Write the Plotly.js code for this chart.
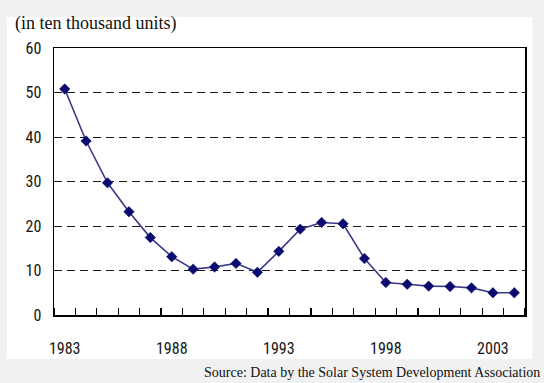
<!DOCTYPE html>
<html>
<head>
<meta charset="utf-8">
<script src="https://cdn.plot.ly/plotly-3.0.1.min.js"></script>
<style>
  html, body { margin: 0; padding: 0; background: #f1f1f1; }
  #chart { width: 544px; height: 383px; }
</style>
</head>
<body>
<div id="chart"></div>
<script>
// Annual shipments of solar water heaters (ten thousand units)
const years = [1983, 1984, 1985, 1986, 1987, 1988, 1989, 1990, 1991, 1992, 1993,
               1994, 1995, 1996, 1997, 1998, 1999, 2000, 2001, 2002, 2003, 2004];
const units = [50.8, 39.1, 29.7, 23.2, 17.4, 13.1, 10.3, 10.8, 11.6, 9.6, 14.3,
               19.3, 20.8, 20.5, 12.7, 7.3, 6.9, 6.5, 6.4, 6.1, 5.0, 5.0];
const yearLabels = [1983, 1988, 1993, 1998, 2003];
const yTicks = [0, 10, 20, 30, 40, 50, 60];

const W = 544, H = 383;
const M = { l: 54, r: 18.5, t: 48, b: 68 };
const plotW = W - M.l - M.r, plotH = H - M.t - M.b;
// pixel -> paper coordinate helpers
const px = x => (x - M.l) / plotW;
const py = y => (H - M.b - y) / plotH;

const tickFont = { family: 'Roboto Condensed', size: 16, color: '#151515' };

const trace = {
  x: years,
  y: units,
  type: 'scatter',
  mode: 'lines+markers',
  line: { color: '#3a3a88', width: 1.6 },
  marker: { symbol: 'diamond', size: 8, color: '#0a0a70', line: { width: 0.6, color: '#0a0a70' } },
  hoverinfo: 'x+y'
};

const layout = {
  width: W, height: H,
  margin: M,
  paper_bgcolor: 'rgba(0,0,0,0)',
  plot_bgcolor: '#ffffff',
  showlegend: false,
  xaxis: {
    range: [1982.5, 2004.5],
    tickmode: 'array',
    tickvals: yearLabels,
    ticktext: yearLabels.map(String),
    ticks: '',
    ticklabelstandoff: 18,
    tickfont: tickFont,
    showgrid: false,
    zeroline: false,
    showline: true, linecolor: '#000', linewidth: 1.5, mirror: true,
    minor: { tick0: 1982.5, dtick: 1, ticks: 'inside', ticklen: 7, tickwidth: 1.2, tickcolor: '#000', showgrid: false }
  },
  yaxis: {
    range: [0, 60],
    tickmode: 'array',
    tickvals: yTicks,
    ticks: '',
    ticklabelstandoff: 8,
    tickfont: tickFont,
    showgrid: true, gridcolor: '#1a1a1a', gridwidth: 1, griddash: '8px,5px',
    zeroline: false,
    showline: true, linecolor: '#000', linewidth: 1.5, mirror: true
  },
  shapes: [
    { type: 'rect', xref: 'paper', yref: 'paper', layer: 'below',
      x0: px(7), x1: px(533), y0: py(359), y1: py(17),
      fillcolor: '#ffffff', line: { width: 0 } }
  ],
  annotations: [
    { xref: 'paper', yref: 'paper', x: px(13), y: py(23), xanchor: 'left', yanchor: 'middle',
      text: '(in ten thousand units)', showarrow: false,
      font: { family: 'Liberation Serif', size: 18, color: '#111' } },
    { xref: 'paper', yref: 'paper', x: px(543), y: py(372), xanchor: 'right', yanchor: 'middle',
      text: 'Source: Data by the Solar System Development Association', showarrow: false,
      font: { family: 'Liberation Serif', size: 14, color: '#111' } }
  ]
};

Plotly.newPlot('chart', [trace], layout, { displayModeBar: false, staticPlot: true });
</script>
</body>
</html>
